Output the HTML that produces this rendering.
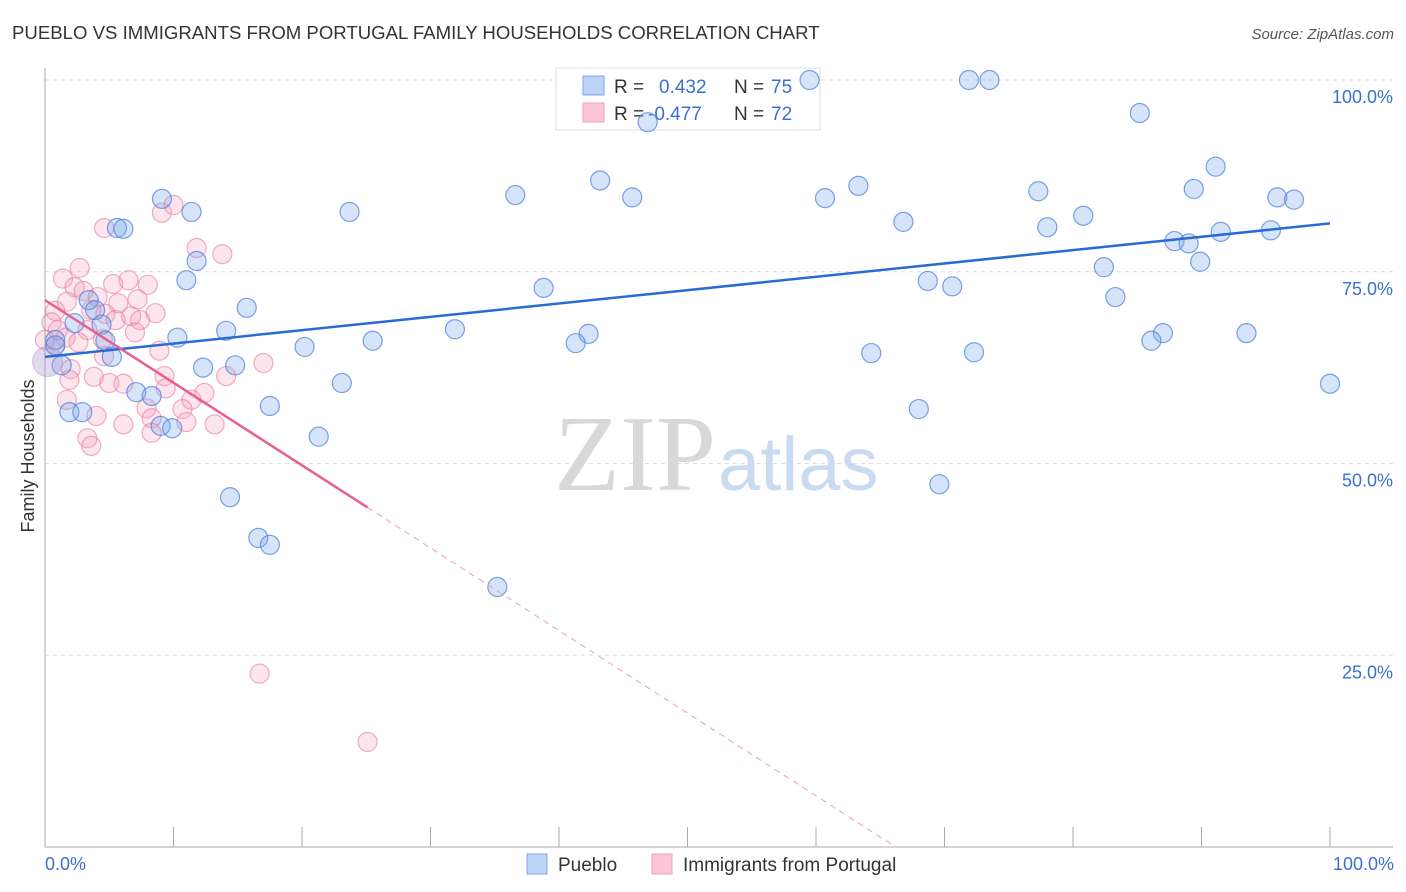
<!DOCTYPE html>
<html><head><meta charset="utf-8"><style>
body{margin:0;background:#fff;font-family:"Liberation Sans",sans-serif}
svg{display:block}
</style></head><body>
<svg id="chart" width="1406" height="892">
<text x="12" y="39" font-size="18.6" fill="#333">PUEBLO VS IMMIGRANTS FROM PORTUGAL FAMILY HOUSEHOLDS CORRELATION CHART</text>
<text x="1394" y="39" font-size="15" fill="#555" font-style="italic" text-anchor="end">Source: ZipAtlas.com</text>
<g id="grid"></g>
<text x="716" y="490" font-size="108" fill="#d8d8d8" font-family="Liberation Serif,serif" text-anchor="end">ZIP</text>
<text x="718" y="490" font-size="76" fill="#c9daf2">atlas</text>
<g>
<rect x="556" y="68" width="264" height="62" fill="#fff" stroke="#ddd"/>
<rect x="583" y="76" width="21" height="19" fill="#bcd3f5" stroke="#7fa6e6"/>
<rect x="583" y="103" width="21" height="19" fill="#fcc6d6" stroke="#eea3b9"/>
<text x="614" y="93" font-size="19" fill="#333">R =</text>
<text x="659" y="93" font-size="19" fill="#3a70d0">0.432</text>
<text x="734" y="93" font-size="19" fill="#333">N =</text>
<text x="771" y="93" font-size="19" fill="#3a70d0">75</text>
<text x="614" y="120" font-size="19" fill="#333">R =</text>
<text x="648" y="120" font-size="19" fill="#3a70d0">-0.477</text>
<text x="734" y="120" font-size="19" fill="#333">N =</text>
<text x="771" y="120" font-size="19" fill="#3a70d0">72</text>
</g>
<g id="pts"></g>
<g id="lines"></g>
<text transform="translate(34,456) rotate(-90)" font-size="18" fill="#333" text-anchor="middle">Family Households</text>
<text x="45" y="870" font-size="18" fill="#3a70d0">0.0%</text>
<text x="1394" y="870" font-size="18" fill="#3a70d0" text-anchor="end">100.0%</text>
<g>
<rect x="527" y="854" width="20" height="20" fill="#bcd3f5" stroke="#7fa6e6"/>
<text x="558" y="871" font-size="19" fill="#333">Pueblo</text>
<rect x="652" y="854" width="20" height="20" fill="#fcc6d6" stroke="#eea3b9"/>
<text x="683" y="871" font-size="19" fill="#333">Immigrants from Portugal</text>
</g>
</svg>
<script>
const yTicks=[25,50,75,100];
const yTickLabels=["25.0%","50.0%","75.0%","100.0%"];
const xTicks=[0,10,20,30,40,50,60,70,80,90,100];
const blueX=[59.5,71.9,73.5,46.9,85.2,43.2,91.1,36.6,45.7,9.1,11.4,23.7,60.7,63.3,77.3,89.4,95.9,97.2,5.6,6.1,66.8,78.0,80.8,91.5,95.4,87.9,89.0,11.8,89.9,11.0,82.4,68.7,70.6,38.8,83.3,3.4,15.7,3.9,2.3,4.4,14.1,10.3,31.9,25.5,42.3,41.3,87.0,86.1,93.5,20.2,64.3,72.3,4.7,0.8,5.2,1.3,14.8,12.3,23.1,100,7.1,8.3,1.9,2.9,17.5,68.0,9.0,9.9,21.3,14.4,69.6,16.6,17.5,35.2,0.8];
const blueY=[100,100,100,94.5,95.7,86.9,88.7,85.0,84.7,84.5,82.8,82.8,84.6,86.2,85.5,85.8,84.7,84.4,80.7,80.6,81.5,80.8,82.3,80.2,80.4,79.0,78.7,76.4,76.3,73.9,75.6,73.8,73.1,72.9,71.7,71.3,70.3,70.0,68.3,68.1,67.3,66.4,67.5,66.0,66.9,65.7,67.0,66.0,67.0,65.2,64.4,64.5,66.0,65.4,63.9,62.8,62.8,62.5,60.5,60.4,59.3,58.8,56.7,56.7,57.5,57.1,54.9,54.6,53.5,45.6,47.3,40.3,39.4,33.9,66.1];
const pinkX=[4.6,9.1,10.0,11.8,13.8,2.7,1.4,6.5,2.3,8.0,5.3,3.0,4.1,7.2,1.7,5.7,0.8,3.6,4.7,6.7,8.6,7.4,5.5,0.5,1.0,3.3,7.0,1.6,4.5,2.6,0.8,8.9,4.6,2.0,17.0,9.3,3.8,6.1,5.0,1.9,14.1,9.4,12.4,11.4,1.7,7.9,10.7,4.0,8.3,6.1,11.0,13.2,8.3,3.3,3.6,16.7,25.1,0];
const pinkY=[80.7,82.7,83.7,78.1,77.3,75.5,74.1,73.9,73.0,73.3,73.4,72.5,71.7,71.4,71.1,70.9,69.9,70.0,69.5,69.2,69.6,68.7,68.7,68.4,67.4,67.4,67.1,66.4,66.2,65.8,65.4,64.7,64.0,62.3,63.1,61.4,61.3,60.4,60.5,60.9,61.4,59.8,59.2,58.3,58.3,57.2,57.1,56.2,55.9,55.1,55.4,55.1,54.0,53.3,52.3,22.6,13.7,66.1];
const blueTrend=[63.9,81.3];      // y at x=0 and x=100
const pinkTrend=[71.3,-1.077];    // intercept, slope
const pinkSolidEnd=25.1;
const X=v=>45+v*12.85, Y=v=>847-v*7.67;
const NS="http://www.w3.org/2000/svg";
function mk(t,a,p){const e=document.createElementNS(NS,t);for(const k in a)e.setAttribute(k,a[k]);p.appendChild(e);return e;}
const grid=document.getElementById('grid');
yTicks.forEach((v,i)=>{
 const l=mk('line',{x1:45,x2:1393,y1:Y(v),y2:Y(v),stroke:'#ddd','stroke-dasharray':'4,4'},grid);
 
 
 const t=mk('text',{x:1393,y:Y(v)+23,'font-size':18,fill:'#3a70d0','text-anchor':'end'},grid);
 t.textContent=yTickLabels[i];
 
 
});
const ax=mk('line',{x1:45,x2:45,y1:68,y2:847,stroke:'#aaa'},grid);


const bx=mk('line',{x1:45,x2:1393,y1:847,y2:847,stroke:'#aaa'},grid);


xTicks.forEach(v=>{
 const l=mk('line',{x1:X(v),x2:X(v),y1:827,y2:847,stroke:'#aaa'},grid);
 
 
});
const pts=document.getElementById('pts');
pinkX.forEach((x,i)=>{
 const c=mk('circle',{cx:X(x),cy:Y(pinkY[i]),r:9.5,fill:'rgba(245,150,180,0.25)',stroke:'rgba(232,120,155,0.6)','stroke-width':1.2},pts);
 
 
});
blueX.forEach((x,i)=>{
 const c=mk('circle',{cx:X(x),cy:Y(blueY[i]),r:9.5,fill:'rgba(120,165,235,0.3)',stroke:'rgba(80,130,220,0.75)','stroke-width':1.2},pts);
 
 
});
const big=mk('circle',{cx:X(0.2),cy:Y(63.3),r:15,fill:'rgba(170,150,210,0.35)',stroke:'rgba(200,140,190,0.5)'},pts);


const lines=document.getElementById('lines');
const bl=mk('line',{x1:X(0),y1:Y(blueTrend[0]),x2:X(100),y2:Y(blueTrend[1]),stroke:'#2a6ad6','stroke-width':2.5},lines);


const pe=pinkTrend[0]+pinkTrend[1]*pinkSolidEnd;
const pl=mk('line',{x1:X(0),y1:Y(pinkTrend[0]),x2:X(pinkSolidEnd),y2:Y(pe),stroke:'#e8608e','stroke-width':2.5},lines);


const zx=-pinkTrend[0]/pinkTrend[1];
const pd=mk('line',{x1:X(pinkSolidEnd),y1:Y(pe),x2:X(zx),y2:Y(0),stroke:'#e8a0b8','stroke-width':1,'stroke-dasharray':'6,5'},lines);


</script>
</body></html>
